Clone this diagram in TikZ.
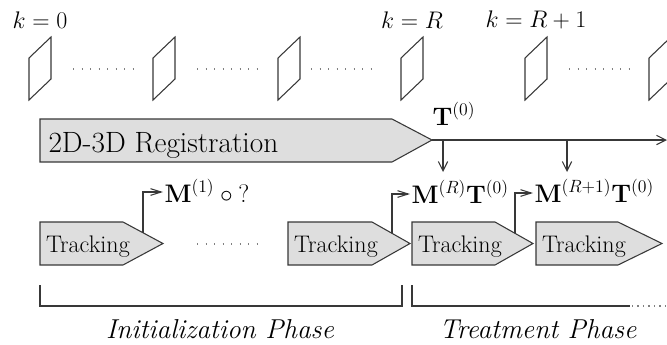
\RequirePackage{fix-cm}
\documentclass[tikz,border=0pt]{standalone}
\usetikzlibrary{arrows.meta}
\definecolor{boxfill}{gray}{0.87}
\definecolor{linecol}{gray}{0.22}
\begin{document}
\begin{tikzpicture}[x=0.75pt,y=-0.75pt,line width=0.8pt,
  shapebox/.style={draw=linecol,fill=boxfill,line join=miter},
  framebox/.style={draw=linecol,line join=miter},
  dotrow/.style={draw=gray,line width=0.9pt,dash pattern=on 0.9pt off 5.5pt},
  dotend/.style={draw=gray,line width=0.9pt,dash pattern=on 0.9pt off 3.2pt},
  arr/.style={draw=linecol,-{Straight Barb[length=7pt,width=7pt]}},
  outarr/.style={draw=linecol,-{Straight Barb[length=8pt,width=5pt]}},
  plain/.style={draw=linecol},
  trk/.style={font=\fontsize{18}{21}\selectfont,inner sep=0pt,anchor=base west},
  reg/.style={font=\fontsize{22}{26}\selectfont,inner sep=0pt,anchor=base west},
  klab/.style={font=\fontsize{18}{21}\selectfont,inner sep=0pt},
  mlab/.style={font=\fontsize{19}{22}\selectfont,inner sep=0pt,anchor=base west},
  phase/.style={font=\fontsize{20.5}{24}\selectfont\itshape,inner sep=0pt}]
\useasboundingbox (0,0) rectangle (667,344);

% image frames
\foreach \L in {29,153,278,401,525,649}{
  \draw[framebox] (\L,58) -- (\L+22,37) -- (\L+22,79) -- (\L,100) -- cycle;
}
\draw[dotrow] (73,69) -- (134,69);
\draw[dotrow] (197,69) -- (258,69);
\draw[dotrow] (311,69) -- (372,69);
\draw[dotrow] (569,69) -- (630,69);

\node[klab] (k0) at (40,20) {$k=0$};
\node[klab] (kR) at (412,20) {$k=R$};
\node[klab] (kR1) at (536,20) {$k=R+1$};

% registration
\draw[shapebox] (40,119) -- (392,119) -- (432,140) -- (392,162) -- (40,162) -- cycle;
\node[reg] (reg) at (48,152) {2D-3D Registration};
\coordinate (regtip) at (432,140);
\coordinate (lineend) at (667,140);
\node[mlab] (T0) at (432,125) {$\mathbf{T}^{(0)}$};
\draw[arr] (regtip) -- (lineend);
\coordinate (d1s) at (443,140);
\coordinate (d1e) at (443,172);
\coordinate (d2s) at (567,140);
\coordinate (d2e) at (567,172);
\draw[arr] (d1s) -- (d1e);
\draw[arr] (d2s) -- (d2e);

% tracking boxes
\foreach \n/\x/\f/\t in {t1/40/123/163, t2/288/372/410, t3/412/495/533, t4/536/618/662}{
  \draw[shapebox] (\x,222) -- (\f,222) -- (\t,243.5) -- (\f,265) -- (\x,265) -- cycle;
  \node[trk] (\n) at (\x+5.5,252.5) {Tracking};
}
\draw[dotrow] (197,244) -- (258,244);

% outputs
\coordinate (o1) at (143,232.7);
\coordinate (a1) at (163,192);
\coordinate (o2) at (392,233.3);
\coordinate (a2) at (410,194);
\coordinate (o3) at (515,233.3);
\coordinate (a3) at (533,193);
\draw[outarr] (o1) |- (a1);
\draw[outarr] (o2) |- (a2);
\draw[outarr] (o3) |- (a3);
\node[mlab] (m1) at (164,202) {$\mathbf{M}^{(1)}\circ{?}$};
\node[mlab] (m2) at (411,203) {$\mathbf{M}^{(R)}\mathbf{T}^{(0)}$};
\node[mlab] (m3) at (534,202) {$\mathbf{M}^{(R+1)}\mathbf{T}^{(0)}$};

% phase brackets
\draw[plain] (40,285) -- (40,306) -- (402,306) -- (402,285);
\draw[plain] (412,285) -- (412,306) -- (630,306);
\draw[dotend] (632,306) -- (667,306);
\node[phase] (init) at (220,329) {Initialization Phase};
\node[phase] (treat) at (538,329) {Treatment Phase};
\end{tikzpicture}
\end{document}
